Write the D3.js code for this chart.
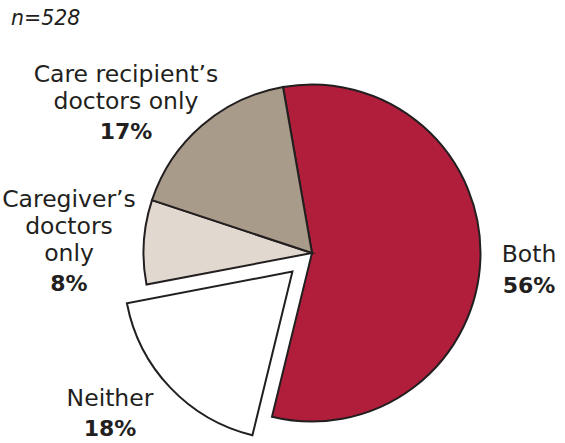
<!DOCTYPE html>
<meta charset="utf-8">
<script src="https://d3js.org/d3.v7.min.js"></script>
<style>
  body { margin: 0; background: #fff; }
  text { font-family: "DejaVu Sans", sans-serif; fill: #231f20; }
</style>
<svg id="my_dataviz" width="565" height="443"></svg>
<script>

// data
var categories = ["Both", "Neither", "Caregiver’s doctors only", "Care recipient’s doctors only"];
var values = [56, 18, 8, 17];
var labelLines = [["Both"], ["Neither"], ["Caregiver’s", "doctors", "only"], ["Care recipient’s", "doctors only"]];
var colors = ["#b01e3b", "#ffffff", "#e1d9cf", "#a99b89"];
var sampleNote = "n=528";

var svg = d3.select("svg"),
    width = +svg.attr("width"),
    height = +svg.attr("height");

var cx = 312, cy = 253, radius = 168.5;
var explodeBy = 27;

// pie starts a bit left of 12 o'clock, clockwise, keep data order
var pie = d3.pie()
    .sort(null)
    .value(function(d) { return d.value; })
    .startAngle(-9.9 * Math.PI / 180)
    .endAngle(-9.9 * Math.PI / 180 + 2 * Math.PI);

var data = categories.map(function(c, i) {
  return { name: c, value: values[i], lines: labelLines[i], color: colors[i] };
});

var arc = d3.arc().innerRadius(0).outerRadius(radius);

var g = svg.append("g").attr("transform", "translate(" + cx + "," + cy + ")");

g.selectAll("path")
  .data(pie(data))
  .enter()
  .append("path")
    .attr("d", arc)
    .attr("fill", function(d) { return d.data.color; })
    .attr("stroke", "#231f20")
    .attr("stroke-width", 2)
    .attr("stroke-linejoin", "miter")
    .attr("transform", function(d) {
      if (d.data.name !== "Neither") return null;
      var mid = (d.startAngle + d.endAngle) / 2;
      return "translate(" + (Math.sin(mid) * explodeBy) + "," + (-Math.cos(mid) * explodeBy) + ")";
    });

// label placement (x centre, first baseline)
var labelPos = {
  "Both": [529, 262],
  "Neither": [110, 405.5],
  "Caregiver’s doctors only": [69, 206.5],
  "Care recipient’s doctors only": [126, 81.5]
};
var lineH = 27, pctGap = 30.5;

data.forEach(function(d) {
  var p = labelPos[d.name];
  var t = svg.append("text")
      .attr("text-anchor", "middle")
      .attr("x", p[0])
      .attr("y", p[1]);
  d.lines.forEach(function(line, i) {
    t.append("tspan")
      .attr("x", p[0])
      .attr("y", p[1] + i * lineH)
      .style("font-size", "23.5px")
      .text(line);
  });
  t.append("tspan")
    .attr("x", p[0])
    .attr("y", p[1] + (d.lines.length - 1) * lineH + pctGap)
    .style("font-size", "22px")
    .style("font-weight", "bold")
    .text(d.value + "%");
});

svg.append("text")
  .attr("x", 11)
  .attr("y", 25)
  .style("font-size", "20.5px")
  .style("font-style", "italic")
  .text(sampleNote);

</script>
